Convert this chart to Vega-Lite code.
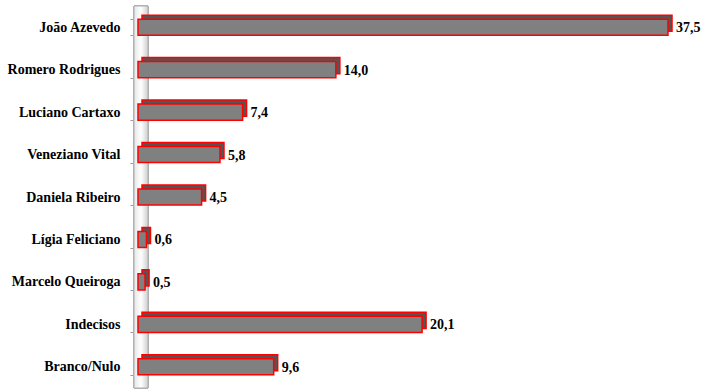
{
  "$schema": "https://vega.github.io/schema/vega-lite/v6.json",
  "autosize": {"type": "none"},
  "width": 530,
  "height": 382,
  "padding": {"left": 138, "top": 6, "right": 38, "bottom": 4},
  "background": "white",
  "config": {"view": {"stroke": null}, "font": "Liberation Serif"},
  "data": {
    "values": [
      {"candidato": "João Azevedo", "valor": 37.5, "rotulo": "37,5"},
      {"candidato": "Romero Rodrigues", "valor": 14.0, "rotulo": "14,0"},
      {"candidato": "Luciano Cartaxo", "valor": 7.4, "rotulo": "7,4"},
      {"candidato": "Veneziano Vital", "valor": 5.8, "rotulo": "5,8"},
      {"candidato": "Daniela Ribeiro", "valor": 4.5, "rotulo": "4,5"},
      {"candidato": "Lígia Feliciano", "valor": 0.6, "rotulo": "0,6"},
      {"candidato": "Marcelo Queiroga", "valor": 0.5, "rotulo": "0,5"},
      {"candidato": "Indecisos", "valor": 20.1, "rotulo": "20,1"},
      {"candidato": "Branco/Nulo", "valor": 9.6, "rotulo": "9,6"}
    ]
  },
  "layer": [
    {
      "mark": {
        "type": "rect",
        "x2Offset": 10,
        "xOffset": -4,
        "fill": {
          "gradient": "linear",
          "x1": 0, "y1": 0, "x2": 1, "y2": 0,
          "stops": [
            {"offset": 0, "color": "#e6e6e6"},
            {"offset": 0.5, "color": "#ffffff"},
            {"offset": 1, "color": "#cfcfcf"}
          ]
        },
        "stroke": "#b0b0b0",
        "strokeWidth": 1
      },
      "encoding": {
        "x": {"datum": 0, "type": "quantitative", "scale": {"domain": [0, 37.5], "nice": false}, "axis": null},
        "x2": {"datum": 0}
      }
    },
    {
      "mark": {"type": "bar", "xOffset": 4, "yOffset": -4, "fill": "#555555", "stroke": "#ff0000", "strokeWidth": 1.5},
      "encoding": {
        "x": {"field": "valor", "type": "quantitative"},
        "y": {
          "field": "candidato",
          "type": "nominal",
          "sort": null,
          "scale": {"paddingInner": 0.62, "paddingOuter": 0.31},
          "axis": {
            "title": null,
            "labelFont": "Liberation Serif",
            "labelFontWeight": "bold",
            "labelFontSize": 14,
            "labelColor": "black",
            "labelPadding": 10,
            "tickBand": "extent",
            "tickSize": 4,
            "tickColor": "#999999",
            "domainColor": "#999999",
            "offset": 4
          }
        }
      }
    },
    {
      "mark": {"type": "bar", "fill": "#808080", "stroke": "#ff0000", "strokeWidth": 1.5},
      "encoding": {
        "x": {"field": "valor", "type": "quantitative"},
        "y": {"field": "candidato", "type": "nominal", "sort": null}
      }
    },
    {
      "mark": {"type": "text", "align": "left", "baseline": "middle", "dx": 8, "dy": 1, "font": "Liberation Serif", "fontWeight": "bold", "fontSize": 14, "color": "black"},
      "encoding": {
        "x": {"field": "valor", "type": "quantitative"},
        "y": {"field": "candidato", "type": "nominal", "sort": null},
        "text": {"field": "rotulo"}
      }
    }
  ]
}
